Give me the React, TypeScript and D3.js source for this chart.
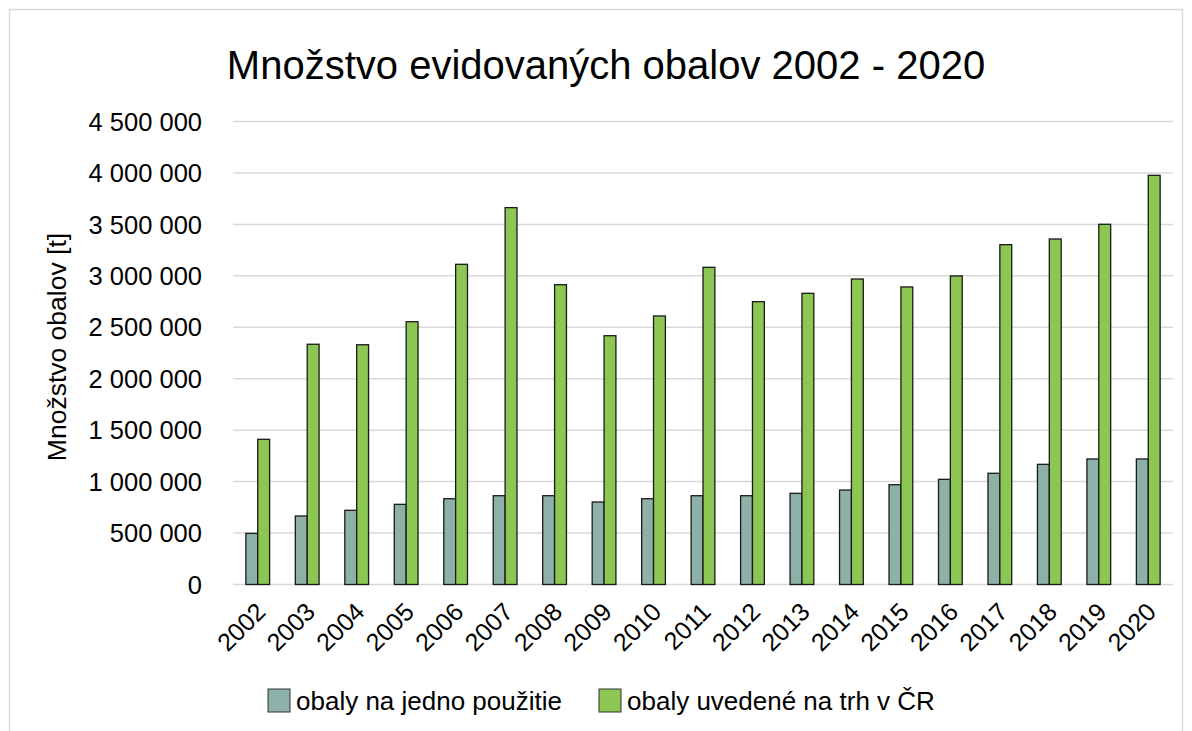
import React, { useEffect, useRef } from 'react';
import * as d3 from 'd3';

const years = ['2002', '2003', '2004', '2005', '2006', '2007', '2008', '2009', '2010', '2011',
  '2012', '2013', '2014', '2015', '2016', '2017', '2018', '2019', '2020'];

const jednorazove = [497000, 666000, 721000, 779000, 834000, 863000, 863000, 802000, 834000, 863000,
  863000, 886000, 918000, 970000, 1022000, 1081000, 1168000, 1220000, 1220000];

const naTrh = [1411000, 2335000, 2330000, 2554000, 3112000, 3663000, 2914000, 2418000, 2610000, 3083000,
  2749000, 2830000, 2969000, 2892000, 2999000, 3303000, 3358000, 3501000, 3977000];

const yTicks = [0, 500000, 1000000, 1500000, 2000000, 2500000, 3000000, 3500000, 4000000, 4500000];

const seriesNames = ['obaly na jedno použitie', 'obaly uvedené na trh v ČR'];
const seriesColors = ['#8db1a8', '#8cc653'];

const W = 1192;
const H = 731;
const FONT = '"Liberation Sans", Arial, sans-serif';

export default function App() {
  const svgRef = useRef<SVGSVGElement>(null);

  useEffect(() => {
    if (!svgRef.current) return;
    const svg = d3.select(svgRef.current);
    svg.selectAll('*').remove();

    const margin = { top: 121.5, left: 233, right: W - 1173, bottom: H - 584.5 };

    // outer chart border
    svg.append('rect')
      .attr('x', 9.5).attr('y', 9.5)
      .attr('width', 1173).attr('height', 760)
      .attr('fill', '#fff')
      .attr('stroke', '#d9d9d9')
      .attr('stroke-width', 1.5);

    svg.append('text')
      .attr('x', 606).attr('y', 79)
      .attr('text-anchor', 'middle')
      .attr('font-family', FONT)
      .attr('font-size', 40)
      .attr('fill', '#000')
      .text('Množstvo evidovaných obalov 2002 - 2020');

    const x = d3.scaleBand<string>()
      .domain(years)
      .range([margin.left, W - margin.right]);

    const y = d3.scaleLinear()
      .domain([0, 4500000])
      .range([H - margin.bottom, margin.top]);

    const fmt = (v: number) => d3.format(',')(v).replace(/,/g, ' ');

    // gridlines
    svg.append('g')
      .selectAll('line')
      .data(yTicks)
      .enter()
      .append('line')
      .attr('x1', margin.left)
      .attr('x2', W - margin.right)
      .attr('y1', d => y(d))
      .attr('y2', d => y(d))
      .attr('stroke', '#d9d9d9')
      .attr('stroke-width', 1.5);

    // y tick labels
    svg.append('g')
      .selectAll('text')
      .data(yTicks)
      .enter()
      .append('text')
      .attr('x', 202)
      .attr('y', d => y(d))
      .attr('dy', '0.36em')
      .attr('text-anchor', 'end')
      .attr('font-family', FONT)
      .attr('font-size', 25.5)
      .attr('fill', '#000')
      .text(d => fmt(d));

    // y axis title
    svg.append('text')
      .attr('transform', 'translate(66,347) rotate(-90)')
      .attr('text-anchor', 'middle')
      .attr('font-family', FONT)
      .attr('font-size', 26.5)
      .attr('fill', '#000')
      .text('Množstvo obalov [t]');

    // bars
    const barW = x.bandwidth() * 0.24;
    const series = [jednorazove, naTrh];
    series.forEach((vals, s) => {
      svg.append('g')
        .selectAll('rect')
        .data(vals)
        .enter()
        .append('rect')
        .attr('x', (d, i) => (x(years[i]) as number) + x.bandwidth() / 2 - barW + s * barW)
        .attr('y', d => y(d))
        .attr('width', barW)
        .attr('height', d => y(0) - y(d))
        .attr('fill', seriesColors[s])
        .attr('stroke', '#1a1a1a')
        .attr('stroke-width', 1.3);
    });

    // x labels
    svg.append('g')
      .selectAll('text')
      .data(years)
      .enter()
      .append('text')
      .attr('transform', d => `translate(${(x(d) as number) + x.bandwidth() / 2 - 3},${601}) rotate(-45)`)
      .attr('text-anchor', 'end')
      .attr('dy', '0.7em')
      .attr('font-family', FONT)
      .attr('font-size', 25)
      .attr('fill', '#000')
      .text(d => d);

    // legend
    const legendX = [268, 599];
    seriesNames.forEach((name, s) => {
      svg.append('rect')
        .attr('x', legendX[s]).attr('y', 689)
        .attr('width', 22).attr('height', 23)
        .attr('fill', seriesColors[s])
        .attr('stroke', '#333')
        .attr('stroke-width', 1);
      svg.append('text')
        .attr('x', legendX[s] + 28)
        .attr('y', 710)
        .attr('font-family', FONT)
        .attr('font-size', 26)
        .attr('fill', '#000')
        .text(name);
    });
  }, []);

  return (
    <div style={{ position: 'absolute', left: 0, top: 0, width: W, height: H, background: '#fff' }}>
      <svg ref={svgRef} width={W} height={H} style={{ display: 'block' }} />
    </div>
  );
}
